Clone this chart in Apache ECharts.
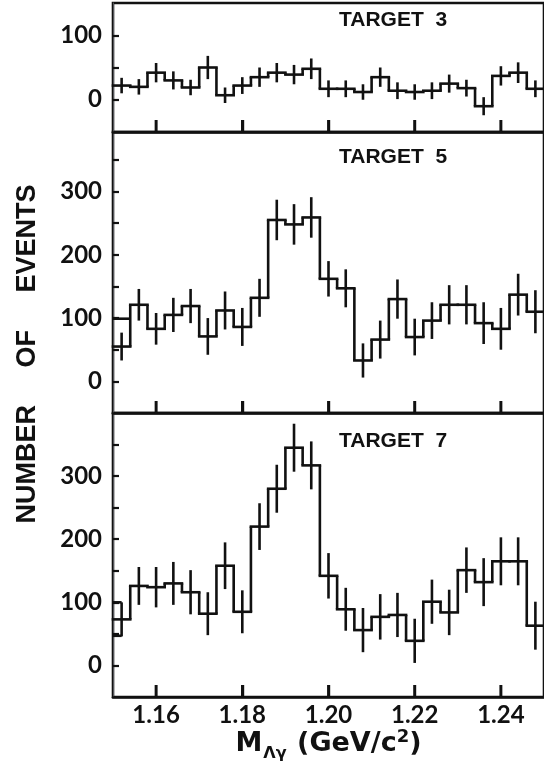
<!DOCTYPE html>
<html><head><meta charset="utf-8">
<script src="https://cdn.jsdelivr.net/npm/echarts@6/dist/echarts.min.js"></script>
<style>html,body{margin:0;padding:0;background:#fff}#c{width:544px;height:771px}</style>
</head><body><div id="c"></div>
<script>
// ---- data ----
const binCenters = [1.152,1.156,1.160,1.164,1.168,1.172,1.176,1.180,1.184,1.188,1.192,1.196,1.200,1.204,1.208,1.212,1.216,1.220,1.224,1.228,1.232,1.236,1.240,1.244,1.248];
const target3 = [22,20,42,30,19,50,7,22,35,42,39,48,17,17,12,35,14,12,14,25,18,-10,37,42,17];
const target3Err = [12,12,15,14,12,18,12,13,15,15,15,16,13,13,12,15,13,12,13,14,13,14,15,16,13];
const target5 = [55,121,83,105,119,71,112,86,132,255,248,259,162,147,33,66,130,70,96,121,121,92,83,137,110];
const target5Err = [22,25,25,27,27,29,30,30,30,32,32,32,28,30,27,30,31,29,29,31,31,33,33,33,34];
const target5Extra = [99];
const target7 = [73,126,124,130,116,82,158,85,220,280,345,317,142,89,56,77,80,39,101,84,151,132,165,165,63];
const target7Err = [27,30,32,34,35,34,37,34,37,38,38,38,36,34,35,36,35,35,35,36,36,38,38,38,38];
const target7Extra = [100,47];
const panelNames = ['TARGET  3','TARGET  5','TARGET  7'];
const xTicks = [1.16,1.18,1.20,1.22,1.24];
const yTicks1 = [0,50,100];
const yLabels1 = [0,100];
const yTicks23 = [0,50,100,150,200,250,300,350];
const yLabels23 = [0,100,200,300];
const yTitle = 'NUMBER     OF     EVENTS';

// ---- layout / style ----
const binWidth = 0.004;
const ink = '#111';
const grids = [
  {top:3, height:129, ymin:-50, ymax:150},
  {top:132, height:281, ymin:-50, ymax:394},
  {top:413, height:284, ymin:-50, ymax:400}
];
const labelFont = {fontFamily:'Lato', fontWeight:'bold', fontSize:24, color:ink};
const targetFont = {fontFamily:'Liberation Sans', fontWeight:'bold', fontSize:21, color:ink};
const tickLen = 12;

function makeRender(extras, extraHalf, ymin){
  return function(params, api){
    const i = params.dataIndex;
    const c = api.value(0), v = api.value(1), e = api.value(2), p = api.value(3);
    const hw = binWidth/2;
    const st = {stroke:ink, lineWidth:2.6, fill:null};
    const L = api.coord([c-hw, v]), R = api.coord([c+hw, v]);
    const ch = [];
    ch.push({type:'line', shape:{x1:L[0]-1.3,y1:L[1],x2:R[0]+1.3,y2:R[1]}, style:st});
    if (i > 0){
      const P = api.coord([c-hw, p]);
      ch.push({type:'line', shape:{x1:L[0],y1:P[1],x2:L[0],y2:L[1]}, style:st});
    }
    const T = api.coord([c, v+e]), B = api.coord([c, v-e]);
    ch.push({type:'line', shape:{x1:T[0],y1:T[1],x2:B[0],y2:B[1]}, style:st});
    if (i === 0 && extras){
      extras.forEach(lv=>{
        const a = api.coord([c-hw, lv]), b = api.coord([extraHalf ? c : c+hw, lv]);
        ch.push({type:'line', shape:{x1:a[0],y1:a[1],x2:b[0],y2:b[1]}, style:st});
      });
    }
    if (i === 0){
      xTicks.forEach(t=>{
        const q = api.coord([t, ymin]);
        ch.push({type:'rect', shape:{x:q[0]-1.2, y:q[1]-tickLen, width:2.4, height:tickLen}, style:{fill:ink, stroke:null}});
      });
    }
    return {type:'group', children:ch};
  };
}
function buildData(vals, errs){
  return vals.map((v,i)=>[binCenters[i], v, errs[i], i>0 ? vals[i-1] : v]);
}

const series = [
  {type:'custom', xAxisIndex:0, yAxisIndex:0, clip:false, z:10, renderItem:makeRender(null,false,grids[0].ymin), data:buildData(target3,target3Err), encode:{x:0,y:1}, silent:true},
  {type:'custom', xAxisIndex:1, yAxisIndex:1, clip:false, z:10, renderItem:makeRender(target5Extra,false,grids[1].ymin), data:buildData(target5,target5Err), encode:{x:0,y:1}, silent:true},
  {type:'custom', xAxisIndex:2, yAxisIndex:2, clip:false, z:10, renderItem:makeRender(target7Extra,true,grids[2].ymin), data:buildData(target7,target7Err), encode:{x:0,y:1}, silent:true}
];

const option = {
  animation:false,
  title: [
    {text:panelNames[0], left:339, top:10, padding:0, textStyle:targetFont},
    {text:panelNames[1], left:339, top:147, padding:0, textStyle:targetFont},
    {text:panelNames[2], left:339, top:431, padding:0, textStyle:targetFont}
  ],
  grid: grids.map(g=>({left:113, right:-1, top:g.top, height:g.height, show:true, borderColor:ink, borderWidth:2.6})),
  xAxis: grids.map((g,i)=>({
    type:'value', gridIndex:i, min:1.15, max:1.25, position:'bottom',
    axisLine:{show:true, onZero:false, lineStyle:{color:ink, width:2.6}},
    axisTick:{show:true, inside:true, length:tickLen, customValues:xTicks, lineStyle:{color:ink, width:2.4}},
    axisLabel:{show:i===2, customValues:xTicks, margin:6, formatter:v=>v.toFixed(2), ...labelFont},
    splitLine:{show:false},
    name: i===2 ? '{m|M}{s|Λγ}{m| (GeV/c}{p|2}{m|)}' : undefined,
    nameLocation:'middle', nameGap:17,
    nameTextStyle:{rich:{
      m:{fontFamily:'DejaVu Sans', fontWeight:'bold', fontSize:27, color:ink},
      s:{fontFamily:'DejaVu Sans', fontWeight:'bold', fontSize:16, color:ink, padding:[19,1,0,1]},
      p:{fontFamily:'DejaVu Sans', fontWeight:'bold', fontSize:18, color:ink, padding:[0,0,14,0]}
    }}
  })),
  yAxis: grids.map((g,i)=>({
    type:'value', gridIndex:i, min:g.ymin, max:g.ymax,
    axisTick:{show:true, inside:true, length:6, customValues: i===0 ? yTicks1 : yTicks23, lineStyle:{color:ink, width:2.2}},
    axisLabel:{show:true, customValues: i===0 ? yLabels1 : yLabels23, margin:11, ...labelFont},
    splitLine:{show:false}
  })),
  graphic:[{
    id:'ytitle', type:'text', x:28, y:354, rotation:Math.PI/2,
    style:{text:yTitle, fontFamily:'Liberation Sans', fontWeight:'bold', fontSize:27, fill:ink, align:'center', verticalAlign:'middle'}
  }],
  series
};
const chart = echarts.init(document.getElementById('c'), null, {renderer:'canvas'});
chart.setOption(option);

// also place tick marks as graphic elements through each grid's scale
const tickGraphics = [];
grids.forEach((g,i)=>{
  xTicks.forEach((t,k)=>{
    const p = chart.convertToPixel({gridIndex:i}, [t, g.ymin]);
    if (p && isFinite(p[0]) && isFinite(p[1])) {
      tickGraphics.push({id:'xt'+i+'_'+k, type:'rect', z:100,
        shape:{x:p[0]-1.2, y:p[1]-tickLen, width:2.4, height:tickLen}, style:{fill:ink}});
    }
  });
});
if (tickGraphics.length) chart.setOption({graphic: tickGraphics});
</script>
</body></html>
